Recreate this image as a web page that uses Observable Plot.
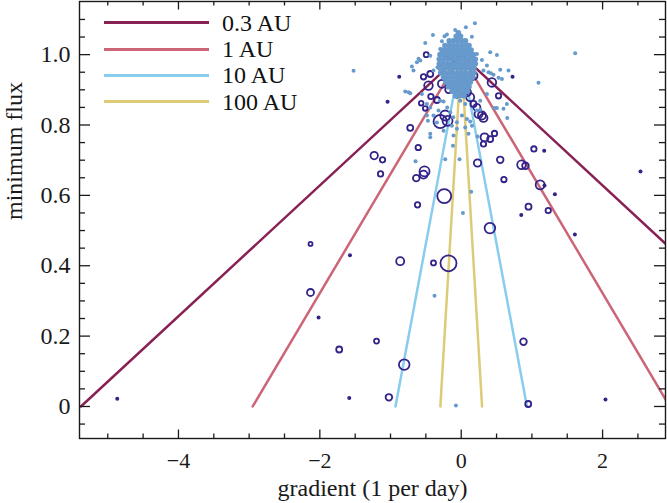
<!DOCTYPE html>
<html><head><meta charset="utf-8">
<script src="https://cdn.jsdelivr.net/npm/d3@7"></script>
<script src="https://cdn.jsdelivr.net/npm/@observablehq/plot@0.6"></script>
<style>
html,body{margin:0;padding:0;background:#fff;}
#wrap{position:relative;width:667px;height:503px;font-family:"Liberation Serif","Times New Roman",serif;}
#legend{position:absolute;left:104px;top:9.5px;}
.row{display:flex;align-items:center;height:26.4px;}
.sw{width:105px;height:3px;margin-right:13px;}
.lab{font-size:24px;color:#111;line-height:1;white-space:nowrap;}
svg text{font-family:"Liberation Serif","Times New Roman",serif !important;}
</style></head><body><div id="wrap"><div id="legend"></div></div>
<script>
// Model lines: distance label and the gradient where minimum flux reaches 0
const auLabels = ["0.3 AU", "1 AU", "10 AU", "100 AU"];
const zeroGradient = [5.38, 2.95, 0.93, 0.295];
const apexFlux = 1;

// Open circles: [gradient, minimum flux, size]
const circles = [
[0.948,0.007,3],[-1.023,0.026,3.3],[-0.806,0.119,5.3],[-1.726,0.162,3],[-1.198,0.186,2.5],[0.881,0.184,3.3],
[-0.863,0.413,4],[-0.392,0.408,2.5],[-0.18,0.407,8],[-2.132,0.462,2],[-2.132,0.324,3.5],[-1.231,0.713,3.7],
[-1.113,0.701,2.7],[-1.141,0.661,2.7],[-0.519,0.668,5],[-0.533,0.659,4],[-0.636,0.649,3.3],[0.231,0.692,3.7],
[0.552,0.701,3.3],[0.853,0.687,4.3],[0.909,0.684,3.3],[0.604,0.645,2.7],[-0.24,0.598,7],[-0.618,0.573,2.7],
[0.952,0.568,3],[0.406,0.507,5.3],[1.117,0.63,4.5],[0.293,0.827,4],[0.315,0.82,4],[0.33,0.765,4],[0.41,0.76,3],
[0.471,0.776,2.7],[0.315,0.746,2.7],[1.028,0.732,2.7],[1.231,0.557,2.7],[-0.721,0.792,3],[-0.608,0.736,2.7],
[-0.533,0.937,2.7],[-0.463,0.912,4.3],[-0.438,0.945,3],[-0.429,0.881,2.7],[-0.344,0.871,3],[-0.566,0.862,2.3],
[-0.509,0.847,2.3],[-0.273,0.917,4],[-0.18,0.9,3.3],[0.081,0.893,4],[0.127,0.879,4],[0.434,0.921,4.3],
[0.528,0.883,2.7],[0.174,0.86,3],[0.245,0.831,4],[-0.226,0.827,5],[-0.297,0.81,6.7],[-0.194,0.812,5],
[-0.495,1.0,2.5],[-0.165,1.002,4],[0.222,0.85,3.5],[0.174,0.94,4]
];

// Small filled dark points: [gradient, minimum flux]
const smallDark = [
[-4.866,0.022],[2.041,0.02],[-1.584,0.024],[-1.574,0.43],[-2.018,0.253],[0.849,0.544],[1.178,0.628],
[1.174,0.727],[1.325,0.603],[1.608,0.489],[2.536,0.668],[-0.877,0.937],[0.726,0.937],[-1.042,0.866]
];

// Field points (light blue): [gradient, minimum flux]
const fieldScatter = [
[-0.075,0.003],[-0.378,0.315],[-0.646,0.697],[-0.226,0.703],[-0.024,0.703],[0.141,0.61],[0.024,0.55],
[0.471,0.848],[0.651,0.82],[1.612,1.004],[-1.523,0.954],[1.093,0.92],[-0.438,0.765],[-0.117,0.741],
[-0.109,0.77],[-0.061,0.808],[0.01,0.827],[0.081,0.817],[0.103,0.775],[0.151,0.798],[0.222,0.841],
[-0.014,0.869],[0.057,0.86],[-0.061,0.879],[0.269,0.869],[0.364,0.888],[0.505,0.848],[0.598,0.846],
[-0.485,0.827],[-0.392,0.827],[-0.471,0.812],[-0.344,0.807],[-0.321,0.841],[-0.438,0.85],[-0.485,0.86],
[-0.792,0.895],[-0.745,0.893],[-0.697,0.966],[-0.604,0.988],[-0.627,0.978],[-0.58,0.983],[-0.509,1.033],
[-0.4,1.056],[-0.202,1.057],[-0.236,1.052],[-0.085,1.07],[0.066,1.078],[0.194,1.089],[0.151,1.051],
[-0.273,1.038],[0.103,1.026],[-0.297,1.016],[0.41,1.007],[0.505,0.999],[0.222,1.002],[-0.438,0.997],
[0.293,0.985],[0.364,0.969],[0.552,0.957],[0.669,0.955],[0.42,0.947],[0.315,0.955],[-0.335,0.964],
[-0.392,0.955],[0.457,0.943],[0.528,0.934],[-0.297,0.869],[-0.25,0.867],[-0.198,0.85],[-0.156,0.836],
[-0.113,0.822],[-0.25,0.784],[-0.132,0.798],[0.057,0.793],[0.127,0.81],[0.646,0.86],[0.269,0.843],
[0.576,0.931],[0.386,0.95],[-0.438,0.775],[-0.061,0.789],[0.231,0.767],[-0.556,0.888],[-0.721,0.89],
[-0.675,0.955]
];
const fieldCore = [
[-0.07,1.052],[-0.01,1.052],[-0.04,1.062],
[-0.17,1.039],[-0.11,1.039],[-0.05,1.039],[0.01,1.039],[0.06,1.039],
[-0.23,1.026],[-0.17,1.026],[-0.11,1.026],[-0.05,1.026],[0.01,1.026],[0.07,1.026],[0.11,1.026],
[-0.27,1.013],[-0.21,1.013],[-0.15,1.013],[-0.09,1.013],[-0.03,1.013],[0.03,1.013],[0.09,1.013],[0.14,1.013],
[-0.30,1.0],[-0.24,1.0],[-0.18,1.0],[-0.12,1.0],[-0.06,1.0],[0.0,1.0],[0.06,1.0],[0.12,1.0],[0.17,1.0],
[-0.31,0.987],[-0.25,0.987],[-0.19,0.987],[-0.13,0.987],[-0.07,0.987],[-0.01,0.987],[0.05,0.987],[0.11,0.987],[0.17,0.987],[0.2,0.987],
[-0.31,0.974],[-0.26,0.974],[-0.2,0.974],[-0.14,0.974],[-0.08,0.974],[-0.02,0.974],[0.04,0.974],[0.1,0.974],[0.16,0.974],[0.2,0.974],
[-0.3,0.961],[-0.24,0.961],[-0.18,0.961],[-0.12,0.961],[-0.06,0.961],[0.0,0.961],[0.06,0.961],[0.12,0.961],[0.18,0.961],
[-0.29,0.948],[-0.23,0.948],[-0.17,0.948],[-0.11,0.948],[-0.05,0.948],[0.01,0.948],[0.07,0.948],[0.13,0.948],[0.18,0.948],
[-0.25,0.935],[-0.19,0.935],[-0.13,0.935],[-0.07,0.935],[-0.01,0.935],[0.05,0.935],[0.11,0.935],[0.16,0.935],
[-0.22,0.922],[-0.16,0.922],[-0.1,0.922],[-0.04,0.922],[0.02,0.922],[0.08,0.922],[0.13,0.922],
[-0.18,0.909],[-0.12,0.909],[-0.06,0.909],[0.0,0.909],[0.06,0.909],[0.11,0.909],
[-0.13,0.896],[-0.07,0.896],[-0.01,0.896],[0.05,0.896],[0.09,0.896],
[-0.08,0.883],[-0.02,0.883],[0.04,0.883]
];

// Axis ticks
const xMajor = [-4, -2, 0, 2];
const xMinor = [-5, -4.5, -3.5, -3, -2.5, -1.5, -1, -0.5, 0.5, 1, 1.5, 2.5];
const yMajor = [0, 0.2, 0.4, 0.6, 0.8, 1.0];
const yMinor = [-0.05, 0.05, 0.1, 0.15, 0.25, 0.3, 0.35, 0.45, 0.5, 0.55, 0.65, 0.7, 0.75, 0.85, 0.9, 0.95, 1.05, 1.1];

// styles
const lineColors = ["#882255", "#CC6677", "#88CCEE", "#DDCC77"];
const dark = "#332288", field = "#6699CC", ink = "#1a1a1a";
const serif = "'Liberation Serif', 'Times New Roman', serif";

const W = 667, H = 503, mL = 79, mR = 2, mT = 1, mB = 65;
const fW = W - mL - mR, fH = H - mT - mB;

const lineRows = [];
auLabels.forEach((au, i) => {
  lineRows.push({au, g: -zeroGradient[i], f: 0});
  lineRows.push({au, g: 0, f: apexFlux});
  lineRows.push({au, g: zeroGradient[i], f: 0});
});

const tickStyle = {stroke: ink, strokeWidth: 1.3};
const chart = Plot.plot({
  width: W, height: H,
  marginLeft: mL, marginRight: mR, marginTop: mT, marginBottom: mB,
  style: {fontFamily: serif, background: "white", color: ink},
  x: {domain: [-5.4, 2.89]},
  y: {domain: [-0.091, 1.151]},
  r: {type: "linear", domain: [0, 10], range: [0, 10]},
  color: {domain: auLabels, range: lineColors},
  marks: [
    Plot.line(lineRows, {x: "g", y: "f", z: "au", stroke: "au", strokeWidth: 2.5, clip: true}),
    Plot.dot(circles, {x: d => d[0], y: d => d[1], r: d => d[2], stroke: dark, strokeWidth: 1.8, fill: "none"}),
    Plot.dot(smallDark, {x: d => d[0], y: d => d[1], r: 2, fill: dark}),
    Plot.dot(fieldCore, {x: d => d[0], y: d => d[1], r: 2.8, fill: field}),
    Plot.dot(fieldScatter, {x: d => d[0], y: d => d[1], r: 2, fill: field}),
    Plot.tickX(xMajor, {x: d => d, insetTop: fH - 8.5, ...tickStyle}),
    Plot.tickX(xMinor, {x: d => d, insetTop: fH - 4.5, ...tickStyle}),
    Plot.tickX(xMajor, {x: d => d, insetBottom: fH - 8.5, ...tickStyle}),
    Plot.tickX(xMinor, {x: d => d, insetBottom: fH - 4.5, ...tickStyle}),
    Plot.tickY(yMajor, {y: d => d, insetRight: fW - 11, ...tickStyle}),
    Plot.tickY(yMinor, {y: d => d, insetRight: fW - 6, ...tickStyle}),
    Plot.tickY(yMajor, {y: d => d, insetLeft: fW - 11, ...tickStyle}),
    Plot.tickY(yMinor, {y: d => d, insetLeft: fW - 6, ...tickStyle}),
    Plot.axisX(xMajor, {tickSize: 0, tickPadding: 14, fontSize: 22, fontFamily: serif, label: null, fill: ink}),
    Plot.axisY(yMajor, {tickSize: 0, tickPadding: 9, fontSize: 24, fontFamily: serif, label: null, fill: ink,
      tickFormat: d => d === 0 ? "0" : d.toFixed(1)}),
    Plot.frame({stroke: ink, strokeWidth: 1.4}),
    Plot.text(["gradient (1 per day)"], {text: d => d, frameAnchor: "bottom", dy: 57, lineAnchor: "bottom", fontSize: 24, fontFamily: serif, fill: ink}),
    Plot.text(["minimum flux"], {text: d => d, frameAnchor: "left", dx: -58, rotate: -90, lineAnchor: "bottom", fontSize: 24, fontFamily: serif, fill: ink})
  ]
});
const wrap = document.getElementById("wrap");
wrap.insertBefore(chart, wrap.firstChild);

const legend = document.getElementById("legend");
auLabels.forEach((au, i) => {
  const row = document.createElement("div");
  row.className = "row";
  const sw = document.createElement("div");
  sw.className = "sw";
  sw.style.background = lineColors[i];
  const lab = document.createElement("span");
  lab.className = "lab";
  lab.textContent = au;
  row.appendChild(sw); row.appendChild(lab);
  legend.appendChild(row);
});
</script></body></html>
